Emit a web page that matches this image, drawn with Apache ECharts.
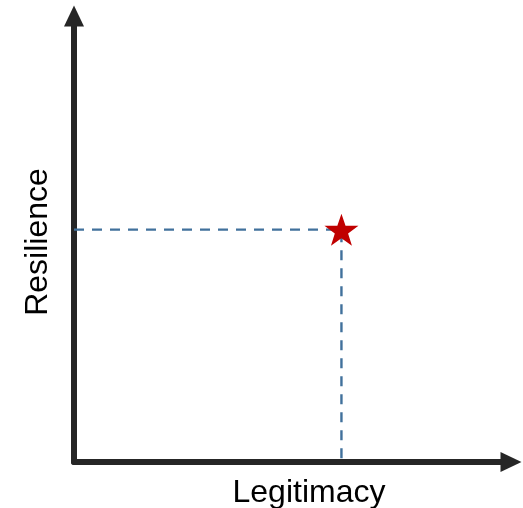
<!DOCTYPE html>
<html>
<head>
<meta charset="utf-8">
<script src="https://cdn.jsdelivr.net/npm/echarts@6/dist/echarts.min.js"></script>
<style>
html, body { margin: 0; padding: 0; background: #fff; }
#main { width: 523px; height: 508px; }
</style>
</head>
<body>
<div id="main"></div>
<script>
// point position (axis units 0..10)
var pointX = [6.12];
var pointY = [5.21];
var axisNames = ['Legitimacy', 'Resilience'];

var myChart = echarts.init(document.getElementById('main'));

// dashed guide: y-axis -> point -> x-axis
var guide = [[0, pointY[0]], [pointX[0], pointY[0]], [pointX[0], 0]];

var option = {
    backgroundColor: '#ffffff',
    animation: false,
    grid: {
        left: 74,
        right: 12,
        top: 16,
        bottom: 46,
        outerBoundsMode: 'none',
        containLabel: false
    },
    xAxis: {
        type: 'value',
        min: 0,
        max: 10,
        name: axisNames[0],
        nameLocation: 'middle',
        nameGap: 15,
        nameTextStyle: {
            fontFamily: 'Liberation Sans',
            fontSize: 32,
            color: '#000',
            padding: [0, 0, 0, 33]
        },
        axisLine: {
            lineStyle: { color: '#262626', width: 6 },
            symbol: ['none', 'triangle'],
            symbolSize: [20, 21],
            symbolOffset: [0, 0]
        },
        axisTick: { show: false },
        axisLabel: { show: false },
        splitLine: { show: false }
    },
    yAxis: {
        type: 'value',
        min: 0,
        max: 10,
        name: axisNames[1],
        nameLocation: 'middle',
        nameGap: 20,
        nameTextStyle: {
            fontFamily: 'Liberation Sans',
            fontSize: 32,
            color: '#000',
            padding: [0, 6, 0, 0]
        },
        axisLine: {
            lineStyle: { color: '#262626', width: 6 },
            symbol: ['none', 'triangle'],
            symbolSize: [20, 21],
            symbolOffset: [0, 0]
        },
        axisTick: { show: false },
        axisLabel: { show: false },
        splitLine: { show: false }
    },
    series: [{
        type: 'line',
        data: guide,
        showSymbol: false,
        lineStyle: {
            color: '#41719C',
            width: 2.4,
            type: [10, 8]
        },
        z: 2
    }, {
        type: 'scatter',
        data: [[pointX[0], pointY[0]]],
        symbol: 'path://M50,0 L61.8,35.1 L98.9,35.5 L69.1,57.6 L80.2,93.1 L50,71.6 L19.8,93.1 L30.9,57.6 L1.1,35.5 L38.2,35.1 Z',
        symbolSize: [34, 32],
        itemStyle: { color: '#C00000', opacity: 1 },
        z: 3
    }]
};
myChart.setOption(option);
</script>
</body>
</html>
